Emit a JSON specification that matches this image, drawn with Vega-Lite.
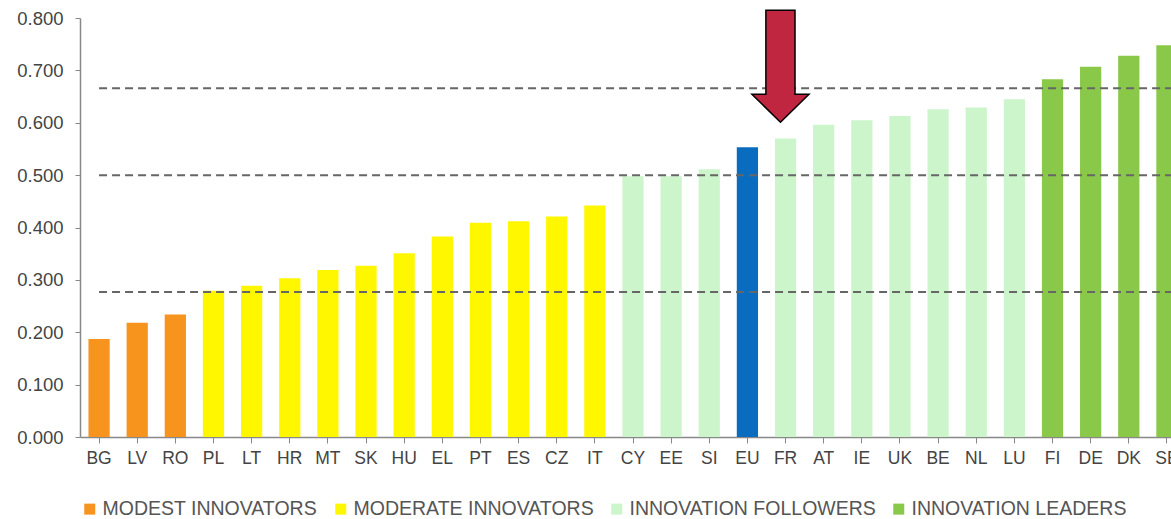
{
  "$schema": "https://vega.github.io/schema/vega-lite/v6.json",
  "autosize": "none",
  "width": 1091,
  "height": 419,
  "padding": {"left": 80, "top": 18, "right": 0, "bottom": 82},
  "background": "white",
  "config": {
    "view": {"stroke": null},
    "font": "Liberation Sans"
  },
  "datasets": {
    "bars": [
      {"country": "BG", "value": 0.187, "group": "MODEST INNOVATORS"},
      {"country": "LV", "value": 0.218, "group": "MODEST INNOVATORS"},
      {"country": "RO", "value": 0.234, "group": "MODEST INNOVATORS"},
      {"country": "PL", "value": 0.279, "group": "MODERATE INNOVATORS"},
      {"country": "LT", "value": 0.289, "group": "MODERATE INNOVATORS"},
      {"country": "HR", "value": 0.303, "group": "MODERATE INNOVATORS"},
      {"country": "MT", "value": 0.319, "group": "MODERATE INNOVATORS"},
      {"country": "SK", "value": 0.327, "group": "MODERATE INNOVATORS"},
      {"country": "HU", "value": 0.351, "group": "MODERATE INNOVATORS"},
      {"country": "EL", "value": 0.383, "group": "MODERATE INNOVATORS"},
      {"country": "PT", "value": 0.409, "group": "MODERATE INNOVATORS"},
      {"country": "ES", "value": 0.412, "group": "MODERATE INNOVATORS"},
      {"country": "CZ", "value": 0.421, "group": "MODERATE INNOVATORS"},
      {"country": "IT", "value": 0.442, "group": "MODERATE INNOVATORS"},
      {"country": "CY", "value": 0.498, "group": "INNOVATION FOLLOWERS"},
      {"country": "EE", "value": 0.498, "group": "INNOVATION FOLLOWERS"},
      {"country": "SI", "value": 0.511, "group": "INNOVATION FOLLOWERS"},
      {"country": "EU", "value": 0.553, "group": "EU"},
      {"country": "FR", "value": 0.570, "group": "INNOVATION FOLLOWERS"},
      {"country": "AT", "value": 0.596, "group": "INNOVATION FOLLOWERS"},
      {"country": "IE", "value": 0.605, "group": "INNOVATION FOLLOWERS"},
      {"country": "UK", "value": 0.613, "group": "INNOVATION FOLLOWERS"},
      {"country": "BE", "value": 0.626, "group": "INNOVATION FOLLOWERS"},
      {"country": "NL", "value": 0.629, "group": "INNOVATION FOLLOWERS"},
      {"country": "LU", "value": 0.645, "group": "INNOVATION FOLLOWERS"},
      {"country": "FI", "value": 0.683, "group": "INNOVATION LEADERS"},
      {"country": "DE", "value": 0.707, "group": "INNOVATION LEADERS"},
      {"country": "DK", "value": 0.728, "group": "INNOVATION LEADERS"},
      {"country": "SE", "value": 0.748, "group": "INNOVATION LEADERS"}
    ],
    "thresholds": [
      {"y": 0.666, "from": "BG", "to": "SE"},
      {"y": 0.500, "from": "BG", "to": "SE"},
      {"y": 0.277, "from": "BG", "to": "SE"}
    ],
    "arrow": [
      {"country": "FR", "y": 0.708}
    ]
  },
  "encoding": {
    "x": {
      "field": "country",
      "type": "nominal",
      "sort": null,
      "scale": {
        "domain": ["BG","LV","RO","PL","LT","HR","MT","SK","HU","EL","PT","ES","CZ","IT","CY","EE","SI","EU","FR","AT","IE","UK","BE","NL","LU","FI","DE","DK","SE"],
        "range": [0, 1106],
        "paddingInner": 0.443,
        "paddingOuter": 0.2215
      },
      "axis": {
        "title": null,
        "labelAngle": 0,
        "labelFontSize": 17.5,
        "labelColor": "#444444",
        "labelPadding": 6,
        "tickSize": 6,
        "tickColor": "#888888",
        "domainColor": "#888888",
        "domainWidth": 1.5
      }
    }
  },
  "layer": [
    {
      "data": {"name": "bars"},
      "mark": {"type": "bar"},
      "encoding": {
        "y": {
          "field": "value",
          "type": "quantitative",
          "scale": {"domain": [0, 0.8], "nice": false},
          "axis": {
            "title": null,
            "format": ".3f",
            "values": [0, 0.1, 0.2, 0.3, 0.4, 0.5, 0.6, 0.7, 0.8],
            "grid": false,
            "labelFontSize": 18.5,
            "labelColor": "#444444",
            "labelPadding": 12,
            "tickSize": 5,
            "tickColor": "#888888",
            "domainColor": "#888888",
            "domainWidth": 1.5
          }
        },
        "color": {
          "field": "group",
          "type": "nominal",
          "scale": {
            "domain": ["MODEST INNOVATORS", "MODERATE INNOVATORS", "INNOVATION FOLLOWERS", "INNOVATION LEADERS", "EU"],
            "range": ["#F7941D", "#FFF700", "#CDF5CB", "#8AC84A", "#0A6CBF"]
          },
          "legend": {
            "values": ["MODEST INNOVATORS", "MODERATE INNOVATORS", "INNOVATION FOLLOWERS", "INNOVATION LEADERS"],
            "title": null,
            "orient": "bottom",
            "direction": "horizontal",
            "symbolType": "square",
            "symbolSize": 121,
            "symbolStrokeWidth": 0,
            "labelFontSize": 19.5,
            "labelLimit": 400,
            "labelColor": "#555555",
            "labelOffset": 3,
            "columnPadding": 13,
            "offset": 32,
            "padding": 0
          }
        }
      }
    },
    {
      "data": {"name": "thresholds"},
      "mark": {"type": "rule", "color": "#666666", "strokeWidth": 2, "strokeDash": [8, 5]},
      "encoding": {
        "x": {"field": "from", "type": "nominal", "bandPosition": 0.5},
        "x2": {"field": "to", "bandPosition": 1},
        "y": {"field": "y", "type": "quantitative"}
      }
    },
    {
      "data": {"name": "arrow"},
      "mark": {
        "type": "point",
        "filled": true,
        "shape": "M-0.26,-1L0.26,-1L0.26,0.5L0.51,0.5L0,1L-0.51,0.5L-0.26,0.5Z",
        "size": 12544,
        "fill": "#C0263F",
        "stroke": "#000000",
        "strokeWidth": 1.5,
        "opacity": 1
      },
      "encoding": {
        "x": {"field": "country", "type": "nominal", "bandPosition": 0.26},
        "y": {"field": "y", "type": "quantitative"}
      }
    }
  ]
}
